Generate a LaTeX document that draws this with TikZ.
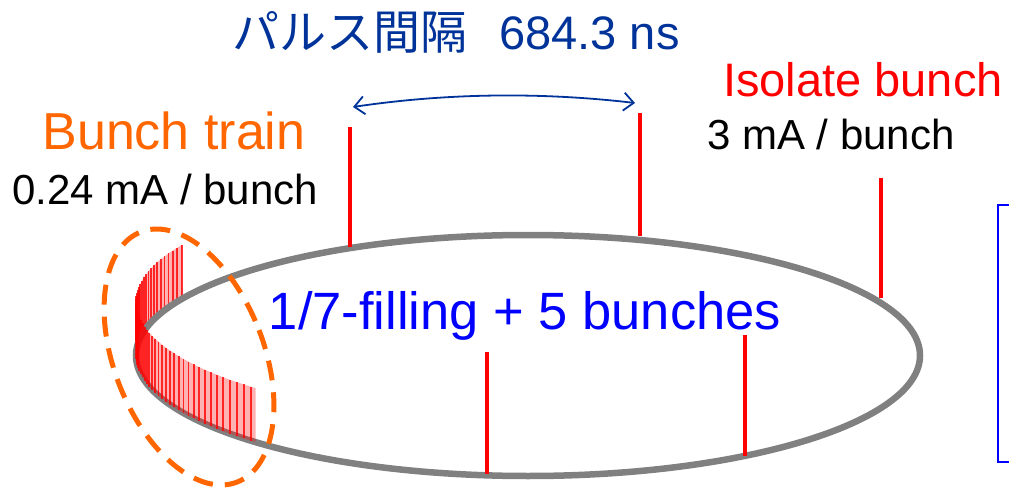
\documentclass[tikz,border=0pt]{standalone}
\usepackage{fontspec}
\setmainfont{Liberation Sans}
\newfontfamily\jpfont{Noto Sans CJK JP}
\usetikzlibrary{arrows.meta}
\definecolor{titleblue}{RGB}{0,51,153}
\definecolor{trainorange}{RGB}{255,102,0}
\definecolor{ringgray}{RGB}{128,128,128}
\definecolor{textblue}{RGB}{0,0,255}
\begin{document}
\begin{tikzpicture}[x=1pt,y=-1pt,
  lbl/.style={inner sep=0pt, anchor=base},
  marker/.style={red, line width=4.5pt},
  ring/.style={ringgray, line width=6.5pt},
  bunchbar/.style={red, line width=1.9pt, opacity=0.8},
  ribbon/.style={red, opacity=0.3},
  trainmark/.style={trainorange, line width=5pt, dash pattern=on 20pt off 12pt},
  spacing/.style={titleblue, line width=1.8pt, {Straight Barb[length=10pt,width=18pt]}-{Straight Barb[length=10pt,width=18pt]}},
  bracket/.style={textblue, line width=2.5pt}
]
\useasboundingbox (0,0) rectangle (1009,489);

% bunch train: back part (upper) behind ring
\fill[ribbon] plot[domain=152:180,samples=30] ({528+392*cos(\x)},{355.5-120.5*sin(\x)})
  -- plot[domain=180:152,samples=30] ({528+392*cos(\x)},{301.5-120.5*sin(\x)}) -- cycle;
\foreach \t in {152,153.5,...,180} {
  \draw[bunchbar] ({528+392*cos(\t)},{355.5-120.5*sin(\t)}) -- ++(0,-54);
}

% storage ring
\draw[ring] (528,355.5) ellipse [x radius=392, y radius=120.5];

% bunch train: front part (lower)
\fill[ribbon] plot[domain=180:226,samples=30] ({528+392*cos(\x)},{355.5-120.5*sin(\x)})
  -- plot[domain=226:180,samples=30] ({528+392*cos(\x)},{301.5-120.5*sin(\x)}) -- cycle;
\foreach \t in {181.5,183,...,226} {
  \draw[bunchbar] ({528+392*cos(\t)},{355.5-120.5*sin(\t)}) -- ++(0,-54);
}

% isolated bunches
\coordinate (l1t) at (350,127); \coordinate (l1b) at (350,247);
\coordinate (l2t) at (640,113); \coordinate (l2b) at (640,236);
\coordinate (l3t) at (881,178); \coordinate (l3b) at (881,298);
\coordinate (l4t) at (487,352); \coordinate (l4b) at (487,474);
\coordinate (l5t) at (745,335); \coordinate (l5b) at (745,456);
\draw[marker] (l1t) -- (l1b);
\draw[marker] (l2t) -- (l2b);
\draw[marker] (l3t) -- (l3b);
\draw[marker] (l4t) -- (l4b);
\draw[marker] (l5t) -- (l5b);

% dashed outline around bunch train
\draw[trainmark, rotate around={21:(189,357)}] (189,357) ellipse [x radius=75, y radius=134];

% pulse spacing arrow
\coordinate (a1) at (353,107);
\coordinate (a2) at (635,103);
\draw[spacing] (a1) .. controls (447,93) and (541,92) .. (a2);

% blue bracket (partially visible box)
\coordinate (b1) at (1010,205);
\coordinate (b2) at (998,205);
\coordinate (b3) at (998,462);
\coordinate (b4) at (1010,462);
\draw[bracket] (b1) -- (b2) -- (b3) -- (b4);

% labels
\node[lbl, text=titleblue, font=\fontsize{47}{50}\selectfont] (title) at (456,50)
  {{\jpfont パルス間隔}\hspace{32pt}684.3 ns};
\node[lbl, text=red, font=\fontsize{47}{50}\selectfont] (isolate) at (863,97) {Isolate bunch};
\node[lbl, text=black, font=\fontsize{42}{45}\selectfont] (isocur) at (831,150) {3 mA / bunch};
\node[lbl, text=trainorange, font=\fontsize{52}{55}\selectfont] (train) at (174,150) {Bunch train};
\node[lbl, text=black, font=\fontsize{42}{45}\selectfont] (traincur) at (165,205) {0.24 mA / bunch};
\node[lbl, text=textblue, font=\fontsize{52.5}{55}\selectfont] (filling) at (525,329) {1/7-filling + 5 bunches};
\end{tikzpicture}
\end{document}
